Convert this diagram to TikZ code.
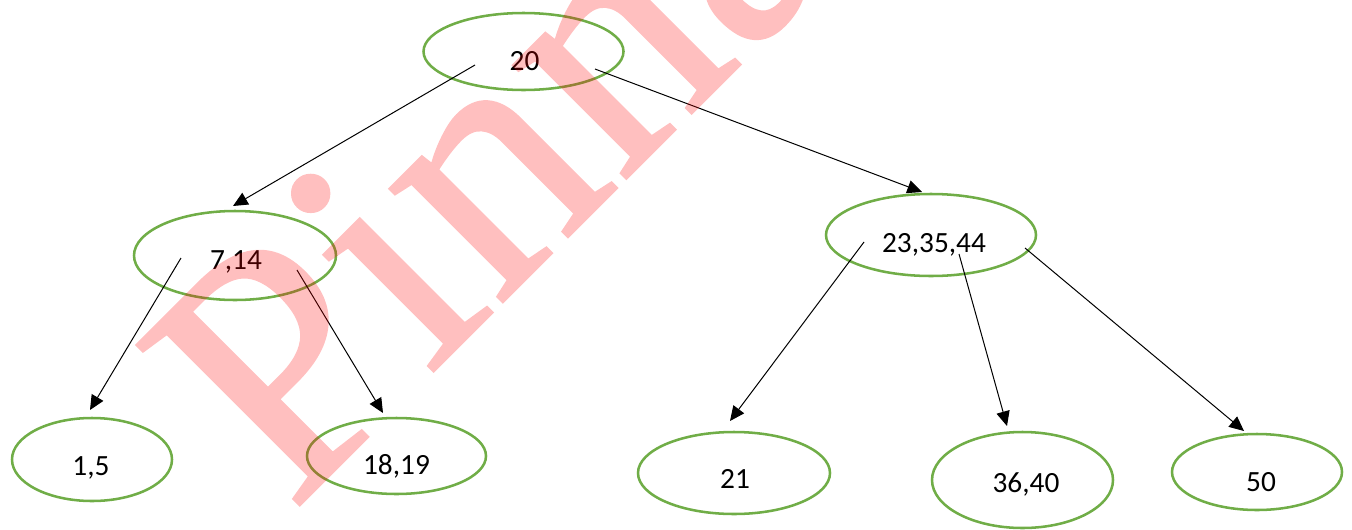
\documentclass[tikz,border=0pt]{standalone}
\usepackage{fontspec}
\setmainfont{Carlito}
\newfontfamily\markfont[FakeBold=0.7]{Liberation Serif}
\usetikzlibrary{shapes.geometric,arrows.meta,calc}

\definecolor{keygreen}{RGB}{112,173,71}

\tikzset{
  keynode/.style={ellipse, draw=keygreen, line width=1.9pt, inner sep=0pt},
  keytext/.style={anchor=base, inner sep=0pt, font=\fontsize{22}{26}\selectfont},
  link/.style={draw=black, line width=0.75pt, -{Triangle[length=11pt,width=10pt]}},
  watermark/.style={text=red, inner sep=0pt, rotate=45,
    anchor=base west, font=\markfont\fontsize{262}{272}\selectfont}
}

\begin{document}
\begin{tikzpicture}[x=0.75pt, y=-0.75pt]
  \useasboundingbox (0,0) rectangle (1352,529);

  % tree nodes (ellipses); sizes in pt (0.75 pt per unit)
  \node[keynode, minimum width=150,   minimum height=57.75] (n20)   at (523.5,51.5)  {};
  \node[keynode, minimum width=151.5, minimum height=66.75] (n714)  at (235,255.5)   {};
  \node[keynode, minimum width=157.5, minimum height=61.5]  (nmid)  at (931,235)     {};
  \node[keynode, minimum width=120,   minimum height=62.25] (n15)   at (92,459.5)    {};
  \node[keynode, minimum width=134.25,minimum height=57]    (n1819) at (396.5,456)   {};
  \node[keynode, minimum width=144,   minimum height=61.5]  (n21)   at (734,473)     {};
  \node[keynode, minimum width=135.75,minimum height=72]    (n3640) at (1022.5,480)  {};
  \node[keynode, minimum width=127.5, minimum height=57]    (n50)   at (1257,472)    {};

  % key lists
  \node[keytext] (t20)   at (524.5,70)  {20};
  \node[keytext] (t714)  at (236,269)   {7,14};
  \node[keytext] (tmid)  at (934,252)   {23,35,44};
  \node[keytext] (t15)   at (91,475)    {1,5};
  \node[keytext] (t1819) at (396.5,474) {18,19};
  \node[keytext] (t21)   at (735,488)   {21};
  \node[keytext] (t3640) at (1026,492)  {36,40};
  \node[keytext] (t50)   at (1261,491)  {50};

  % child pointers
  \draw[link] ($(n20.center)+(-48.5,13.5)$) -- ($(n714.center)+(-2,-49.5)$);
  \draw[link] ($(n20.center)+(71.5,17.5)$)  -- ($(nmid.center)+(-9,-43)$);
  \draw[link] ($(n714.center)+(-54,2.5)$)   -- ($(n15.center)+(-2,-49.5)$);
  \draw[link] ($(n714.center)+(62,14.5)$)   -- ($(n1819.center)+(-13.5,-43)$);
  \draw[link] ($(nmid.center)+(-67,7)$)     -- ($(n21.center)+(-4,-52)$);
  \draw[link] ($(nmid.center)+(28,19)$)     -- ($(n3640.center)+(-15.5,-54)$);
  \draw[link] ($(nmid.center)+(94,13)$)     -- ($(n50.center)+(-13,-41)$);

  % diagonal watermark over everything, composited as one translucent layer
  \begin{scope}[transparency group, opacity=0.25]
    \clip (0,0) rectangle (1352,529);
    \node[watermark] (mark) at (291,514) {Pinnacle};
  \end{scope}
\end{tikzpicture}
\end{document}
